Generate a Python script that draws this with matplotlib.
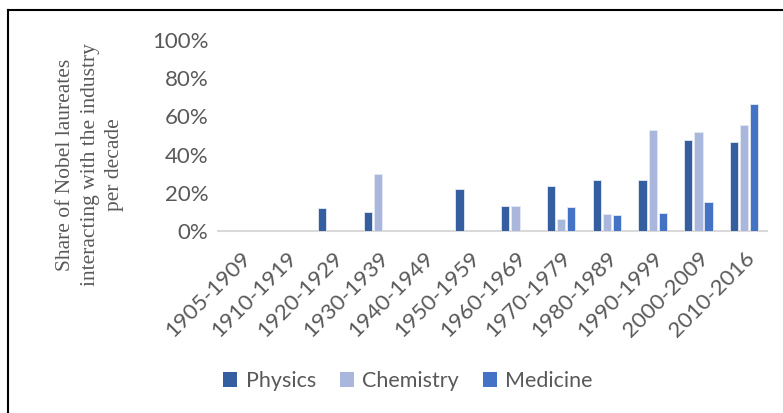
import numpy as np
import matplotlib
matplotlib.use("Agg")
import matplotlib.pyplot as plt
from matplotlib.patches import Patch
from matplotlib.lines import Line2D

# data
decades = ["1905-1909", "1910-1919", "1920-1929", "1930-1939", "1940-1949",
           "1950-1959", "1960-1969", "1970-1979", "1980-1989", "1990-1999",
           "2000-2009", "2010-2016"]
physics = [0, 0, 12.3, 9.8, 0, 22.0, 13.1, 23.8, 26.9, 26.9, 47.9, 46.8]
chemistry = [0, 0, 0, 29.8, 0, 0, 13.1, 6.5, 9.1, 52.7, 51.7, 55.5]
medicine = [0, 0, 0, 0, 0, 0, 0, 12.8, 8.4, 9.6, 15.0, 66.5]
series = ["Physics", "Chemistry", "Medicine"]
colors = ["#345EA0", "#A9B7DC", "#4472C4"]

GREY = "#595959"
plt.rcParams["font.family"] = ["Lato", "DejaVu Sans"]

fig = plt.figure(figsize=(7.83, 4.13), dpi=100)
ax = fig.add_axes([0.2784, 0.4407, 0.7012, 0.4624])

x = np.arange(len(decades))
width = 0.18
step = 0.22
for i, (vals, name) in enumerate(zip([physics, chemistry, medicine], series)):
    ax.bar(x + (i - 1) * step, np.array(vals) / 100, width, color=colors[i],
           edgecolor="#E4E9F4", linewidth=0.6, label=name, zorder=3)

ax.set_xlim(-0.5, len(decades) - 0.5)
ax.set_ylim(0, 1)
ax.set_yticks(np.arange(0, 1.01, 0.2))
ax.set_yticklabels([f"{int(v * 100)}%" for v in np.arange(0, 1.01, 0.2)],
                   color=GREY, fontsize=16)
ax.set_xticks(x)
ax.set_xticklabels(decades, rotation=45, ha="right", rotation_mode="anchor",
                   color=GREY, fontsize=16)
ax.tick_params(axis="both", length=0, pad=7)
ax.tick_params(axis="x", pad=12)
for s in ["top", "right", "left"]:
    ax.spines[s].set_visible(False)
ax.spines["bottom"].set_color("#D9D9D9")
ax.spines["bottom"].set_linewidth(1.5)

fig.text(90 / 783, 1 - 165 / 413,
         "Share of Nobel laureates\ninteracting with the industry\nper decade",
         rotation=90, ha="center", va="center", color=GREY, fontsize=15.5,
         family="Liberation Serif", linespacing=1.4)

handles = [Patch(facecolor=c, edgecolor="none") for c in colors]
fig.legend(handles, series, loc="center", bbox_to_anchor=(408 / 783, 1 - 381 / 413),
           ncol=3, frameon=False, fontsize=15.5, handlelength=0.65, handleheight=0.65,
           handletextpad=0.4, columnspacing=1.1, labelcolor=GREY)

# frame around the figure (left and top edges visible)
fig.add_artist(Line2D([8 / 783, 8 / 783], [0, 1 - 10 / 413], transform=fig.transFigure,
                      color="black", linewidth=1.5))
fig.add_artist(Line2D([8 / 783, 1], [1 - 10 / 413, 1 - 10 / 413], transform=fig.transFigure,
                      color="black", linewidth=1.5))

fig.savefig("out.png", dpi=100)
